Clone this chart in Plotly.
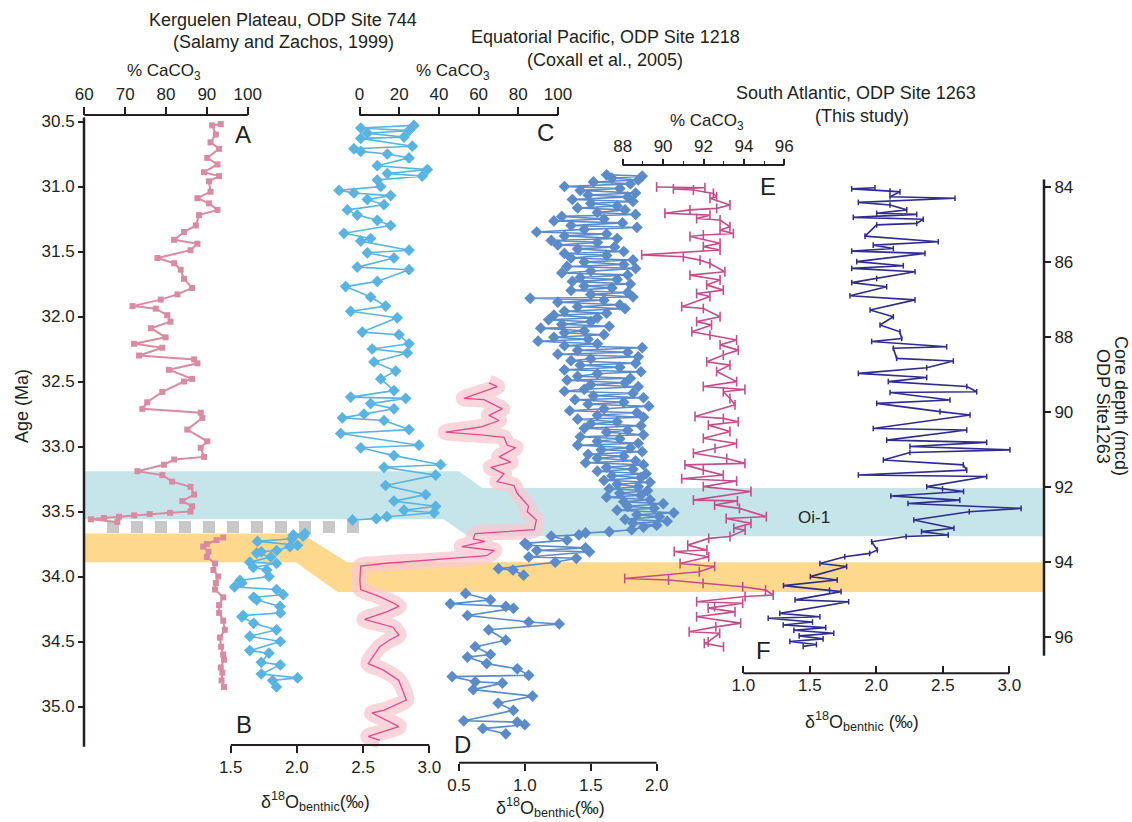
import plotly.graph_objects as go

W, H = 1132, 822
INK = "#231f20"
FONT = "Liberation Sans, Arial, sans-serif"

# ------------------------------------------------------------------ data
# ODP Site 744 %CaCO3 (age Ma, %)
s744_caco3_upper = [
    (30.52, 93.4), (30.53, 91.3), (30.60, 92.2), (30.66, 90.9), (30.71, 93.0), (30.78, 90.1),
    (30.83, 92.6), (30.89, 89.3), (30.92, 93.0), (30.96, 90.5), (31.04, 90.9), (31.09, 87.7),
    (31.13, 90.5), (31.18, 92.6), (31.22, 88.1), (31.30, 87.3), (31.35, 84.4), (31.41, 82.0),
    (31.44, 87.7), (31.49, 86.0), (31.55, 77.9), (31.59, 82.0), (31.64, 83.6), (31.71, 84.4),
    (31.78, 86.4), (31.83, 82.8), (31.87, 78.7), (31.92, 71.8), (31.94, 77.5), (31.99, 80.3),
    (32.04, 81.1), (32.09, 76.3), (32.16, 79.9), (32.21, 72.2), (32.24, 79.1), (32.30, 73.4),
    (32.33, 86.9), (32.36, 87.7), (32.41, 80.7), (32.48, 86.4), (32.50, 84.4), (32.58, 79.1),
    (32.66, 75.4), (32.71, 74.2), (32.74, 88.5), (32.78, 88.9), (32.87, 85.2), (32.96, 90.1),
    (33.01, 88.5), (33.08, 89.3), (33.10, 82.0), (33.14, 79.5), (33.19, 73.0), (33.22, 79.1),
    (33.27, 81.5), (33.31, 86.0), (33.37, 86.9), (33.42, 84.0), (33.46, 86.4), (33.50, 86.0),
    (33.51, 81.0), (33.52, 76.0), (33.53, 72.2), (33.54, 68.5), (33.55, 64.8), (33.56, 61.6),
    (33.58, 68.1),
]
s744_caco3_lower = [
    (33.70, 94.0), (33.72, 92.4), (33.75, 90.0), (33.77, 89.1), (33.81, 90.4), (33.85, 90.0),
    (33.90, 92.0), (33.95, 91.6), (34.00, 92.8), (34.05, 92.2), (34.10, 92.0), (34.16, 94.0),
    (34.22, 93.0), (34.28, 93.0), (34.34, 94.0), (34.41, 94.4), (34.47, 93.2), (34.54, 93.5),
    (34.60, 94.0), (34.64, 94.2), (34.70, 93.4), (34.74, 93.8), (34.80, 93.6), (34.85, 94.2),
]
# ODP Site 744 benthic d18O (age Ma, permil)
s744_d18o_upper = [
    (30.53, 2.884), (30.55, 2.482), (30.57, 2.847), (30.59, 2.532), (30.62, 2.809), (30.63, 2.482),
    (30.69, 2.872), (30.71, 2.431), (30.73, 2.482), (30.75, 2.683), (30.78, 2.847), (30.84, 2.607),
    (30.87, 2.985), (30.90, 2.683), (30.92, 2.947), (30.95, 2.607), (31.00, 2.633), (31.03, 2.318),
    (31.05, 2.431), (31.07, 2.708), (31.10, 2.532), (31.14, 2.658), (31.18, 2.381), (31.22, 2.456),
    (31.26, 2.607), (31.30, 2.708), (31.36, 2.356), (31.40, 2.557), (31.42, 2.482), (31.49, 2.847),
    (31.51, 2.532), (31.55, 2.733), (31.62, 2.456), (31.64, 2.847), (31.73, 2.607), (31.77, 2.368),
    (31.85, 2.557), (31.92, 2.670), (31.96, 2.406), (32.01, 2.758), (32.12, 2.494), (32.14, 2.771),
    (32.21, 2.847), (32.25, 2.569), (32.28, 2.834), (32.35, 2.582), (32.42, 2.746), (32.48, 2.633),
    (32.57, 2.733), (32.62, 2.406), (32.63, 2.822), (32.67, 2.557), (32.71, 2.733), (32.75, 2.507),
    (32.78, 2.343), (32.80, 2.658), (32.87, 2.847), (32.90, 2.331), (32.99, 2.922), (33.01, 2.482),
    (33.07, 2.733), (33.14, 3.086), (33.16, 2.658), (33.22, 3.048), (33.30, 2.670), (33.37, 2.973),
    (33.42, 2.733), (33.46, 3.048), (33.49, 2.809), (33.51, 3.036), (33.54, 2.680), (33.555, 2.600),
    (33.565, 2.420),
]
s744_d18o_lower = [
    (33.67, 2.061), (33.68, 1.973), (33.69, 2.048), (33.71, 1.961), (33.73, 1.702), (33.76, 2.005),
    (33.77, 1.948), (33.80, 1.847), (33.81, 1.731), (33.82, 1.696), (33.85, 1.803), (33.89, 1.644),
    (33.90, 1.846), (33.93, 1.671), (33.95, 1.772), (34.00, 1.789), (34.03, 1.570), (34.05, 1.585),
    (34.08, 1.529), (34.10, 1.846), (34.14, 1.897), (34.16, 1.673), (34.18, 1.696), (34.23, 1.872),
    (34.28, 1.875), (34.30, 1.595), (34.31, 1.585), (34.36, 1.673), (34.41, 1.846), (34.46, 1.644),
    (34.50, 1.875), (34.57, 1.644), (34.59, 1.789), (34.66, 1.731), (34.68, 1.875), (34.75, 1.731),
    (34.78, 2.005), (34.80, 1.817), (34.85, 1.846),
]
# ODP Site 1218 %CaCO3 (age Ma, %)
s1218_caco3 = [
    (32.51, 65.2), (32.54, 69.4), (32.58, 61.9), (32.63, 52.6), (32.64, 62.7), (32.68, 67.8),
    (32.71, 71.9), (32.76, 65.2), (32.80, 70.3), (32.85, 61.1), (32.87, 51.0), (32.89, 43.4),
    (32.91, 61.1), (32.93, 72.8), (32.99, 74.5), (33.01, 78.7), (33.08, 70.3), (33.12, 76.2),
    (33.16, 66.1), (33.21, 72.8), (33.27, 69.4), (33.30, 77.8), (33.36, 79.5), (33.42, 82.9),
    (33.46, 85.2), (33.50, 84.5), (33.565, 89.1), (33.64, 88.1), (33.67, 58.3), (33.71, 57.3),
    (33.73, 63.1), (33.77, 51.5), (33.80, 67.9), (33.84, 64.1), (33.90, 12.1), (33.92, 0.6),
    (34.03, 0.2), (34.10, 0.6), (34.155, 10.2), (34.21, 17.9), (34.23, 19.8), (34.27, 14.0),
    (34.33, 2.5), (34.39, 16.9), (34.45, 19.8), (34.49, 15.0), (34.54, 10.2), (34.67, 4.4),
    (34.72, 12.1), (34.80, 19.8), (34.95, 23.6), (35.03, 12.1), (35.05, 6.3), (35.155, 19.8),
    (35.23, 4.4), (35.26, 10.2),
]
# ODP Site 1218 benthic d18O (age Ma, permil)
s1218_d18o_upper = [
    (30.91, 1.62), (30.92, 1.89), (30.935, 1.66), (30.95, 1.86), (30.965, 1.52), (30.98, 1.80),
    (31.00, 1.30), (31.015, 1.72), (31.03, 1.42), (31.05, 1.84), (31.065, 1.48), (31.08, 1.78),
    (31.10, 1.36), (31.115, 1.82), (31.13, 1.50), (31.15, 1.70), (31.165, 1.40), (31.18, 1.76),
    (31.20, 1.55), (31.215, 1.84), (31.23, 1.28), (31.25, 1.60), (31.265, 1.22), (31.28, 1.74),
    (31.30, 1.35), (31.315, 1.85), (31.33, 1.45), (31.35, 1.09), (31.365, 1.62), (31.38, 1.30),
    (31.40, 1.70), (31.415, 1.20), (31.43, 1.55), (31.45, 1.25), (31.465, 1.68), (31.48, 1.40),
    (31.50, 1.75), (31.515, 1.30), (31.53, 1.62), (31.55, 1.35), (31.565, 1.82), (31.58, 1.45),
    (31.60, 1.75), (31.615, 1.32), (31.63, 1.84), (31.65, 1.50), (31.665, 1.28), (31.68, 1.78),
    (31.70, 1.42), (31.715, 1.70), (31.73, 1.36), (31.75, 1.80), (31.765, 1.45), (31.78, 1.66),
    (31.80, 1.35), (31.815, 1.78), (31.83, 1.50), (31.85, 1.82), (31.86, 1.04), (31.875, 1.60),
    (31.89, 1.25), (31.91, 1.72), (31.925, 1.40), (31.94, 1.76), (31.96, 1.30), (31.975, 1.62),
    (31.99, 1.22), (32.01, 1.55), (32.025, 1.18), (32.04, 1.50), (32.06, 1.28), (32.075, 1.64),
    (32.09, 1.12), (32.11, 1.45), (32.125, 1.30), (32.14, 1.60), (32.16, 1.22), (32.175, 1.48),
    (32.19, 1.10), (32.21, 1.55), (32.225, 1.30), (32.24, 1.89), (32.26, 1.40), (32.275, 1.78),
    (32.29, 1.25), (32.31, 1.86), (32.325, 1.50), (32.34, 1.35), (32.36, 1.84), (32.375, 1.42),
    (32.39, 1.72), (32.41, 1.30), (32.425, 1.88), (32.44, 1.55), (32.46, 1.40), (32.475, 1.80),
    (32.49, 1.32), (32.51, 1.76), (32.525, 1.50), (32.54, 1.86), (32.56, 1.45), (32.575, 1.30),
    (32.59, 1.82), (32.61, 1.52), (32.625, 1.90), (32.64, 1.38), (32.66, 1.75), (32.675, 1.48),
    (32.69, 1.94), (32.71, 1.60), (32.725, 1.34), (32.74, 1.85), (32.76, 1.55), (32.775, 1.90),
    (32.79, 1.40), (32.81, 1.70), (32.825, 1.50), (32.84, 1.88), (32.86, 1.45), (32.875, 1.78),
    (32.89, 1.62), (32.91, 1.90), (32.925, 1.42), (32.94, 1.72), (32.96, 1.55), (32.975, 1.86),
    (32.99, 1.40), (33.01, 1.80), (33.025, 1.58), (33.04, 1.89), (33.06, 1.48), (33.075, 1.75),
    (33.09, 1.55), (33.11, 1.84), (33.125, 1.46), (33.14, 1.90), (33.16, 1.62), (33.175, 1.82),
    (33.19, 1.55), (33.21, 1.92), (33.225, 1.66), (33.24, 1.88), (33.26, 1.60), (33.275, 1.95),
    (33.29, 1.70), (33.31, 1.86), (33.325, 1.64), (33.34, 1.93), (33.36, 1.72), (33.375, 1.88),
    (33.39, 1.62), (33.41, 1.95), (33.425, 1.75), (33.44, 2.05), (33.46, 1.78), (33.475, 1.98),
    (33.49, 1.70), (33.51, 2.13), (33.525, 1.85), (33.54, 2.02), (33.56, 1.76), (33.575, 2.08),
    (33.59, 1.82), (33.605, 2.00), (33.62, 1.90), (33.64, 1.81), (33.655, 1.64), (33.665, 1.46),
    (33.68, 1.41), (33.69, 1.20), (33.72, 1.32), (33.745, 1.00), (33.76, 1.02), (33.78, 1.46),
    (33.80, 1.09), (33.81, 1.49), (33.85, 1.03), (33.86, 1.39), (33.89, 1.23), (33.94, 0.80),
    (33.95, 0.91), (33.99, 0.99),
]
s1218_d18o_lower = [
    (34.13, 0.550), (34.18, 0.739), (34.21, 0.434), (34.23, 0.855), (34.245, 0.913), (34.30, 0.564),
    (34.35, 1.029), (34.365, 1.260), (34.41, 0.725), (34.49, 0.855), (34.54, 0.623), (34.60, 0.739),
    (34.62, 0.564), (34.67, 0.710), (34.71, 0.942), (34.76, 1.029), (34.77, 0.448), (34.81, 0.623),
    (34.82, 0.829), (34.87, 0.608), (34.92, 1.058), (34.975, 0.797), (35.03, 0.913), (35.11, 0.536),
    (35.12, 0.942), (35.14, 0.999), (35.17, 0.681), (35.21, 0.855),
]
# ODP Site 1263 %CaCO3 (core depth mcd, %)
s1263_caco3 = [
    (84.00, 89.68), (84.02, 92.07), (84.05, 90.51), (84.08, 91.50), (84.17, 92.49), (84.26, 92.65),
    (84.30, 92.32), (84.48, 93.31), (84.57, 92.65), (84.61, 91.33), (84.70, 90.09), (84.75, 92.32),
    (84.84, 91.66), (84.88, 92.82), (85.06, 93.31), (85.15, 92.82), (85.24, 93.48), (85.28, 91.99),
    (85.32, 91.33), (85.50, 92.82), (85.59, 91.99), (85.68, 92.82), (85.81, 88.94), (85.86, 91.00),
    (85.95, 91.83), (86.04, 92.32), (86.26, 93.06), (86.35, 91.33), (86.48, 92.82), (86.61, 92.16),
    (86.75, 92.98), (86.84, 91.66), (86.92, 92.32), (87.19, 90.92), (87.24, 91.99), (87.46, 92.82),
    (87.59, 91.66), (87.68, 92.40), (87.86, 91.42), (87.95, 92.32), (88.08, 93.64), (88.21, 92.82),
    (88.35, 93.72), (88.48, 92.98), (88.66, 92.16), (88.75, 93.31), (88.92, 92.65), (89.19, 93.64),
    (89.32, 91.99), (89.40, 94.05), (89.46, 92.98), (89.64, 93.31), (89.81, 93.56), (90.12, 91.58),
    (90.17, 92.98), (90.26, 93.72), (90.35, 92.24), (90.52, 93.31), (90.70, 91.99), (90.84, 93.64),
    (90.97, 92.57), (91.10, 91.50), (91.24, 93.15), (91.37, 94.05), (91.41, 91.08), (91.55, 91.99),
    (91.68, 92.98), (91.78, 90.92), (91.84, 93.64), (91.99, 91.99), (92.12, 94.35), (92.35, 91.50),
    (92.37, 93.68), (92.48, 92.55), (92.57, 93.78), (92.79, 95.11), (92.84, 93.12), (92.97, 94.35),
    (93.10, 93.50), (93.15, 94.06), (93.32, 93.31), (93.37, 92.26), (93.55, 91.22), (93.68, 92.17),
    (93.72, 90.55), (93.86, 92.26), (94.04, 90.84), (94.12, 92.55), (94.26, 91.79), (94.44, 88.10),
    (94.48, 90.27), (94.57, 91.98), (94.66, 93.94), (94.75, 95.07), (94.88, 95.45), (94.92, 94.06),
    (95.06, 91.66), (95.10, 93.94), (95.19, 92.55), (95.23, 92.23), (95.33, 93.56), (95.46, 91.66),
    (95.63, 93.84), (95.73, 92.61), (95.86, 91.29), (95.90, 92.80), (96.13, 92.23), (96.17, 92.04),
    (96.26, 92.99),
]
# ODP Site 1263 benthic d18O (core depth mcd, permil)
s1263_d18o = [
    (84.02, 1.990), (84.05, 1.815), (84.11, 2.103), (84.13, 2.178), (84.26, 2.103), (84.30, 2.592),
    (84.41, 1.865), (84.48, 2.103), (84.61, 2.229), (84.70, 2.003), (84.73, 2.304), (84.81, 1.827),
    (84.86, 2.353), (84.97, 2.304), (85.01, 2.003), (85.31, 1.915), (85.46, 2.466), (85.55, 1.977),
    (85.64, 2.128), (85.71, 1.815), (85.77, 2.366), (85.99, 1.853), (86.10, 2.203), (86.17, 1.815),
    (86.26, 2.291), (86.44, 2.003), (86.55, 1.815), (86.66, 2.078), (86.90, 1.802), (87.01, 2.291),
    (87.28, 1.953), (87.46, 2.128), (87.68, 2.028), (87.86, 2.178), (88.04, 2.191), (88.12, 1.965),
    (88.26, 2.529), (88.30, 2.128), (88.57, 2.153), (88.64, 2.579), (88.82, 2.379), (88.97, 1.865),
    (89.08, 2.379), (89.19, 2.090), (89.32, 2.680), (89.46, 2.755), (89.48, 2.103), (89.68, 2.554),
    (89.77, 2.003), (89.99, 2.479), (90.08, 2.705), (90.44, 1.977), (90.48, 2.680), (90.75, 2.078),
    (90.81, 2.830), (90.92, 2.253), (91.01, 3.005), (91.08, 2.253), (91.28, 2.053), (91.41, 2.654),
    (91.55, 2.680), (91.68, 1.865), (91.72, 2.830), (91.99, 2.379), (92.05, 2.498), (92.12, 2.656),
    (92.24, 2.109), (92.35, 2.628), (92.44, 2.238), (92.57, 3.089), (92.66, 2.699), (92.88, 2.282),
    (93.10, 2.584), (93.19, 2.340), (93.28, 2.541), (93.32, 2.224), (93.46, 1.965), (93.68, 2.008),
    (93.77, 1.950), (93.86, 1.763), (94.04, 1.576), (94.12, 1.777), (94.39, 1.504), (94.48, 1.706),
    (94.63, 1.302), (94.75, 1.648), (94.79, 1.735), (95.01, 1.389), (95.06, 1.792), (95.37, 1.274),
    (95.46, 1.576), (95.50, 1.187), (95.60, 1.520), (95.68, 1.300), (95.75, 1.620), (95.82, 1.380),
    (95.90, 1.680), (95.97, 1.420), (96.05, 1.600), (96.12, 1.350), (96.20, 1.550), (96.25, 1.450),
]

age_ticks = [30.5, 31.0, 31.5, 32.0, 32.5, 33.0, 33.5, 34.0, 34.5, 35.0]
depth_ticks = [84, 86, 88, 90, 92, 94, 96]
ticks_744_caco3 = [60, 70, 80, 90, 100]
ticks_744_d18o = [1.5, 2.0, 2.5, 3.0]
ticks_1218_caco3 = [0, 20, 40, 60, 80, 100]
ticks_1218_d18o = [0.5, 1.0, 1.5, 2.0]
ticks_1263_caco3 = [88, 90, 92, 94, 96]
minor_1263_caco3 = [89, 91, 93, 95]
ticks_1263_d18o = [1.0, 1.5, 2.0, 2.5, 3.0]

# event bands (age, Ma): west part / east part
oi1_band_west = (33.19, 33.56)
oi1_band_east = (33.32, 33.69)
eot_band_west = (33.67, 33.89)
eot_band_east = (33.89, 34.12)
hiatus_744_age = 33.62


# ------------------------------------------------------------------ helpers
def cols(pairs):
    return [p[0] for p in pairs], [p[1] for p in pairs]


def xr(v1, p1, v2, p2):
    k = (v2 - v1) / (p2 - p1)
    return [v1 - p1 * k, v1 + (W - p1) * k]


def yr(v1, p1, v2, p2):
    k = (v2 - v1) / (p2 - p1)
    return [v1 + (H - p1) * k, v1 - p1 * k]


def px(x):
    return x / W


def py(y):
    return 1 - y / H


fig = go.Figure()

# 744 CaCO3
a1y, a1x = cols(s744_caco3_upper)
a2y, a2x = cols(s744_caco3_lower)
fig.add_trace(go.Scatter(x=a1x + [None] + a2x, y=a1y + [None] + a2y, xaxis="x", yaxis="y",
                         mode="lines+markers", line=dict(color="#d98ba1", width=2),
                         marker=dict(symbol="square", size=6, color="#d98ba1"), connectgaps=False))
# 744 d18O
b1y, b1x = cols(s744_d18o_upper)
b2y, b2x = cols(s744_d18o_lower)
fig.add_trace(go.Scatter(x=b1x + [None] + b2x, y=b1y + [None] + b2y, xaxis="x2", yaxis="y",
                         mode="lines+markers", line=dict(color="#5ab4e2", width=1.6),
                         marker=dict(symbol="diamond", size=9, color="#5ab4e2"), connectgaps=False))
# 1218 CaCO3 (halo + line)
cy, cx = cols(s1218_caco3)
fig.add_trace(go.Scatter(x=cx, y=cy, xaxis="x3", yaxis="y", mode="lines",
                         line=dict(color="rgba(248,200,208,0.75)", width=16, shape="spline", smoothing=0.6)))
fig.add_trace(go.Scatter(x=cx, y=cy, xaxis="x3", yaxis="y", mode="lines",
                         line=dict(color="#e4488a", width=1.3)))
# 1218 d18O
d1y, d1x = cols(s1218_d18o_upper)
d2y, d2x = cols(s1218_d18o_lower)
fig.add_trace(go.Scatter(x=d1x + [None] + d2x, y=d1y + [None] + d2y, xaxis="x4", yaxis="y",
                         mode="lines+markers", line=dict(color="#5b8bc8", width=1.6),
                         marker=dict(symbol="diamond", size=9, color="#5b8bc8"), connectgaps=False))
# 1263 CaCO3
ey, ex = cols(s1263_caco3)
fig.add_trace(go.Scatter(x=ex, y=ey, xaxis="x5", yaxis="y2", mode="lines+markers",
                         line=dict(color="#c44e8c", width=1.6),
                         marker=dict(symbol="line-ns-open", size=7, color="#c44e8c",
                                     line=dict(width=1.6, color="#c44e8c"))))
# 1263 d18O
fy, fx = cols(s1263_d18o)
fig.add_trace(go.Scatter(x=fx, y=fy, xaxis="x6", yaxis="y2", mode="lines+markers",
                         line=dict(color="#2e2c8e", width=1.6),
                         marker=dict(symbol="line-ns-open", size=4, color="#2e2c8e",
                                     line=dict(width=1.5, color="#2e2c8e"))))

# ------------------------------------------------------------------ axes
tickfont = dict(family=FONT, size=17, color=INK)
common = dict(showgrid=False, zeroline=False, showline=False, ticks="outside", ticklen=7,
              tickwidth=1.6, tickcolor=INK, tickfont=tickfont, tickmode="array", fixedrange=True)

Y_A, Y_E, Y_B, Y_D, Y_F = 115, 165, 745, 762.7, 673.3

fig.update_layout(
    width=W, height=H, margin=dict(l=0, r=0, t=0, b=0), autosize=False,
    paper_bgcolor="white", plot_bgcolor="white", showlegend=False,
    xaxis=dict(range=xr(60, 84.3, 100, 247.7), anchor="free", position=py(Y_A), side="top",
               tickvals=ticks_744_caco3, **{**common, "ticklen": 8}),
    xaxis2=dict(range=xr(1.5, 230.7, 3.0, 429.3), overlaying="x", anchor="free", position=py(Y_B),
                side="bottom", tickvals=ticks_744_d18o, tickformat=".1f", **common),
    xaxis3=dict(range=xr(0, 359.5, 100, 558), overlaying="x", anchor="free", position=py(Y_A),
                side="top", tickvals=ticks_1218_caco3, **{**common, "ticklen": 8}),
    xaxis4=dict(range=xr(0.5, 459, 2.0, 656.7), overlaying="x", anchor="free", position=py(Y_D),
                side="bottom", tickvals=ticks_1218_d18o, tickformat=".1f", **common),
    xaxis5=dict(range=xr(88, 622.7, 96, 784.3), overlaying="x", anchor="free", position=py(Y_E),
                side="top", tickvals=ticks_1263_caco3,
                minor=dict(tickmode="array", tickvals=minor_1263_caco3, ticks="outside", ticklen=4,
                           tickwidth=1.4, tickcolor=INK), **{**common, "ticklen": 6}),
    xaxis6=dict(range=xr(1.0, 743.3, 3.0, 1009.3), overlaying="x", anchor="free", position=py(Y_F),
                side="bottom", tickvals=ticks_1263_d18o, tickformat=".1f",
                **{**common, "ticks": "inside"}),
    yaxis=dict(range=yr(30.5, 121.5, 35.0, 706.5), anchor="free", position=px(84), side="left",
               tickvals=age_ticks, tickformat=".1f", **{**common, "ticklen": 6}),
    yaxis2=dict(range=yr(84, 187, 96, 637), overlaying="y", anchor="free", position=px(1044),
                side="right", tickvals=depth_ticks, **{**common, "ticklen": 6}),
)

# ------------------------------------------------------------------ shapes
shapes = []


def band(west, east, xs_top, xs_bot, color):
    path = (f"M {px(84)},{west[0]} L {px(xs_top[0])},{west[0]} L {px(xs_top[1])},{east[0]} "
            f"L {px(1044)},{east[0]} L {px(1044)},{east[1]} L {px(xs_bot[1])},{east[1]} "
            f"L {px(xs_bot[0])},{west[1]} L {px(84)},{west[1]} Z")
    return dict(type="path", path=path, xref="paper", yref="y", fillcolor=color,
                line=dict(width=0), layer="below")


shapes.append(band(oi1_band_west, oi1_band_east, (459, 482.3), (443.3, 468.3), "#c6e5eb"))
shapes.append(band(eot_band_west, eot_band_east, (301.4, 347.2), (295.6, 337.7), "#fed98d"))
shapes.append(dict(type="line", xref="paper", yref="y", x0=px(107), x1=px(359),
                   y0=hiatus_744_age, y1=hiatus_744_age, layer="below",
                   line=dict(color="#c8c8c8", width=12, dash="12px,12px")))

# axis lines
shapes.append(dict(type="line", xref="paper", yref="y", x0=px(84), x1=px(84), y0=30.47, y1=35.31,
                   line=dict(color=INK, width=2.5)))
shapes.append(dict(type="line", xref="paper", yref="y2", x0=px(1044), x1=px(1044), y0=83.8, y1=96.5,
                   line=dict(color=INK, width=2.5)))
for ax, v0, v1, yy in [("x", 60, 100, Y_A), ("x3", 0, 100, Y_A), ("x5", 88, 96, Y_E),
                       ("x2", 1.5, 3.0, Y_B), ("x4", 0.5, 2.0, Y_D), ("x6", 1.0, 3.0, Y_F)]:
    shapes.append(dict(type="line", xref=ax, yref="paper", x0=v0, x1=v1, y0=py(yy), y1=py(yy),
                       line=dict(color=INK, width=2)))
fig.update_layout(shapes=shapes)

# ------------------------------------------------------------------ text
ann = []


def txt(s, x, y, size=18, angle=0):
    ann.append(dict(text=s, x=px(x), y=py(y), xref="paper", yref="paper", showarrow=False,
                    xanchor="center", yanchor="middle", textangle=angle,
                    font=dict(family=FONT, size=size, color=INK)))


txt("Kerguelen Plateau, ODP Site 744", 283, 20)
txt("(Salamy and Zachos, 1999)", 283, 42)
txt("Equatorial Pacific, ODP Site 1218", 605, 37)
txt("(Coxall et al., 2005)", 605, 60)
txt("South Atlantic, ODP Site 1263", 856, 93)
txt("(This study)", 862, 116)
txt("% CaCO<sub>3</sub>", 164, 72, 17)
txt("% CaCO<sub>3</sub>", 453, 72, 17)
txt("% CaCO<sub>3</sub>", 707, 122, 17)
txt("δ<sup>18</sup>O<sub>benthic</sub>(‰)", 315, 801, 18)
txt("δ<sup>18</sup>O<sub>benthic</sub>(‰)", 550, 807, 18)
txt("δ<sup>18</sup>O<sub>benthic</sub> (‰)", 862, 721, 18)
txt("Age (Ma)", 22, 406, 18, -90)
txt("Core depth (mcd)", 1121, 406, 18, 90)
txt("ODP Site1263", 1103, 406, 18, 90)
for letter, x, y in [("A", 243, 135), ("C", 545, 133), ("E", 768, 186),
                     ("B", 244, 724), ("D", 462, 744), ("F", 763, 650)]:
    txt(letter, x, y, 24)
txt("Oi-1", 814, 517, 17)
fig.update_layout(annotations=ann)

fig.write_html("out.html")
